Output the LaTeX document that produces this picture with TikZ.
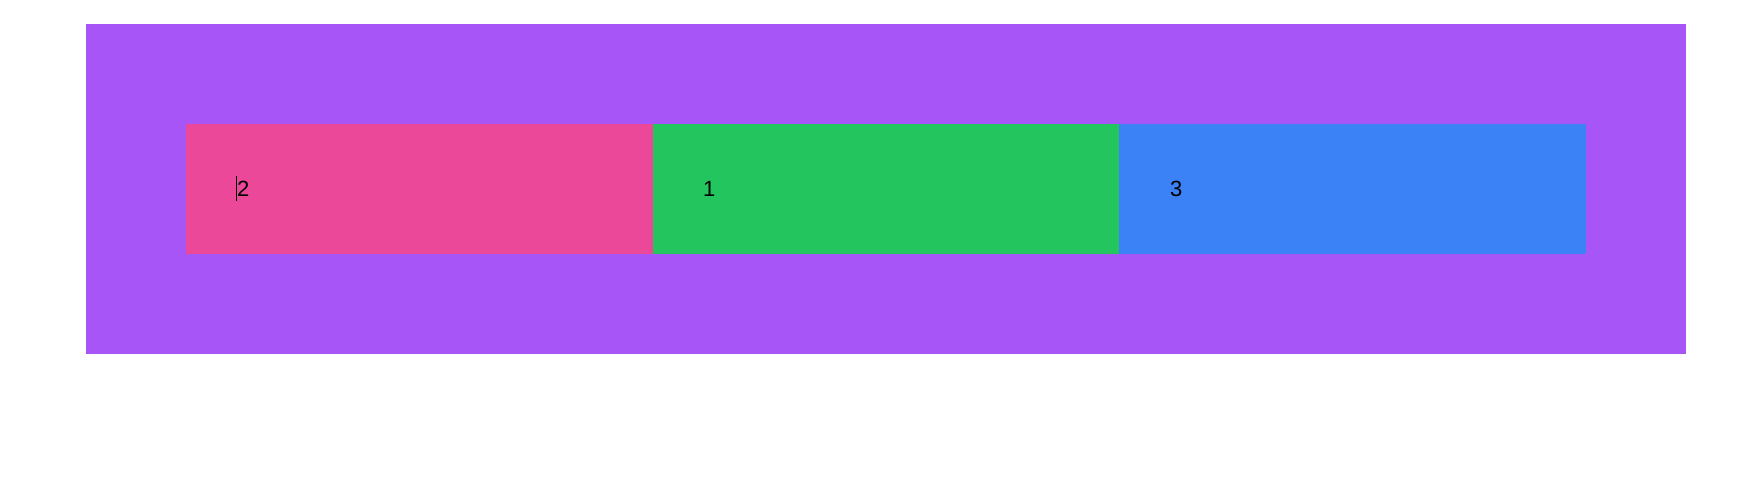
\documentclass[tikz,border=0pt]{standalone}
\usepackage{fontspec}
\setmainfont{Liberation Sans}
\definecolor{cpurple}{HTML}{A855F7}
\definecolor{cpink}{HTML}{EC4899}
\definecolor{cgreen}{HTML}{22C55E}
\definecolor{cblue}{HTML}{3B82F6}
\begin{document}
\begin{tikzpicture}[x=1pt,y=-1pt,
  cell/.style={draw=none,inner sep=0pt,outer sep=0pt,minimum height=130pt,anchor=north west},
  lbl/.style={inner sep=0pt,anchor=base west,font=\fontsize{22}{26}\selectfont}]
\useasboundingbox[fill=white] (0,0) rectangle (1751,486);
\node[cell,fill=cpurple,minimum width=1600pt,minimum height=330pt] (outer) at (86,24) {};
\node[cell,fill=cpink,minimum width=467pt] (c2) at (186,124) {};
\node[cell,fill=cgreen,minimum width=466pt] (c1) at (653,124) {};
\node[cell,fill=cblue,minimum width=467pt] (c3) at (1119,124) {};
\node[lbl] (t2) at (237,197) {2};
\node[lbl] (t1) at (703,197) {1};
\node[lbl] (t3) at (1170,197) {3};
\coordinate (caretTop) at (236.5,176);
\coordinate (caretBot) at (236.5,201);
\draw[line width=0.9pt] (caretTop) -- (caretBot);
\end{tikzpicture}
\end{document}
